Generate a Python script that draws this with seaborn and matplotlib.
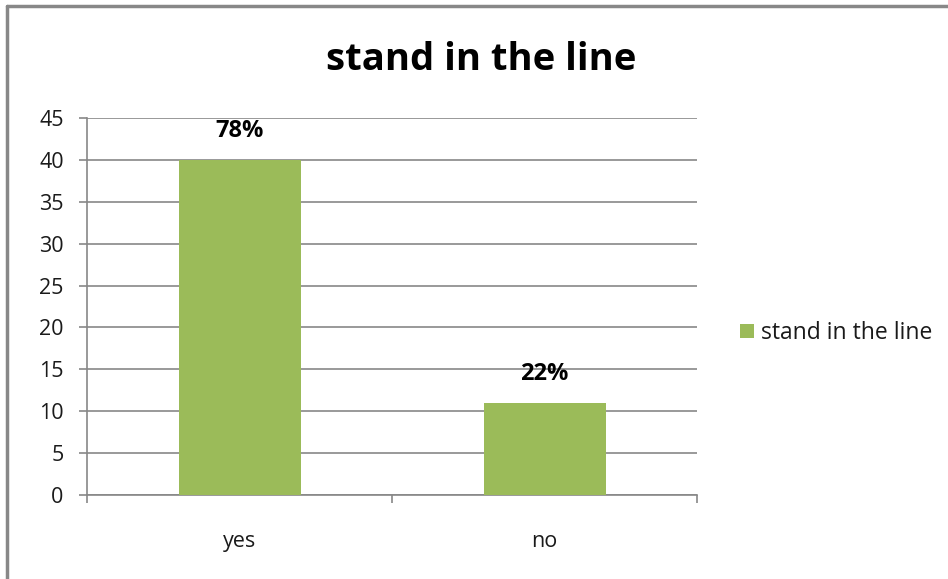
import matplotlib
matplotlib.use("Agg")
import matplotlib.pyplot as plt
from matplotlib.lines import Line2D
import seaborn as sns
import pandas as pd

categories = ["yes", "no"]
values = [40, 11]
pct_labels = ["78%", "22%"]
series_name = "stand in the line"
title = "stand in the line"
y_ticks = [0, 5, 10, 15, 20, 25, 30, 35, 40, 45]

GREEN = "#9BBB59"
GRID = "#878787"
TXT = "#1a1a1a"

sns.set_theme(style="white")
plt.rcParams["font.family"] = ["Open Sans", "DejaVu Sans"]

df = pd.DataFrame({"category": categories, "value": values, "series": [series_name] * len(categories)})

fig = plt.figure(figsize=(9.48, 5.79), dpi=100)
ax = fig.add_axes([87 / 948, 1 - 495 / 579, (697 - 87) / 948, (495 - 118) / 579])

sns.barplot(data=df, x="category", y="value", hue="series", palette=[GREEN],
            width=0.4, dodge=False, ax=ax, zorder=3, saturation=1, linewidth=0)

ax.set_xlim(-0.5, 1.5)
ax.set_ylim(0, 45)
ax.set_yticks(y_ticks)
ax.yaxis.grid(True, color=GRID, linewidth=1.2, zorder=0)
ax.set_axisbelow(True)
ax.set_xlabel("")
ax.set_ylabel("")

for s in ["top", "right"]:
    ax.spines[s].set_visible(False)
for s in ["left", "bottom"]:
    ax.spines[s].set_color(GRID)
    ax.spines[s].set_linewidth(1.2)

ax.tick_params(axis="y", which="major", length=5.8, width=1.2, color=GRID,
               labelsize=15.5, labelcolor=TXT, pad=11, left=True)
ax.tick_params(axis="x", which="major", length=0, labelsize=15.5, labelcolor=TXT, pad=26)
ax.set_xticks([-0.5, 0.5, 1.5], minor=True)
ax.tick_params(axis="x", which="minor", length=5.8, width=1.2, color=GRID, bottom=True)

for i, (v, lab) in enumerate(zip(values, pct_labels)):
    ax.annotate(lab, (i, v), xytext=(0, 12), textcoords="offset points",
                ha="center", va="bottom", fontsize=17, fontweight="bold", color="#000000")

fig.text(481 / 948, 1 - 60 / 579, title, ha="center", va="center",
         fontsize=27.5, fontweight="bold", color="#000000")

leg = ax.legend(loc="center left", bbox_to_anchor=(729 / 948, 1 - 333 / 579),
                bbox_transform=fig.transFigure, frameon=False, fontsize=16.5,
                handlelength=0.6, handleheight=0.6, handletextpad=0.3, borderpad=0)
for t in leg.get_texts():
    t.set_color(TXT)

fig.add_artist(Line2D([7 / 948, 7 / 948], [-0.01, 1 - 6 / 579], transform=fig.transFigure,
                      color="#888888", linewidth=2.5))
fig.add_artist(Line2D([7 / 948, 1.01], [1 - 6 / 579, 1 - 6 / 579], transform=fig.transFigure,
                      color="#888888", linewidth=2.5))

fig.savefig("out.png", dpi=100, facecolor="white")
